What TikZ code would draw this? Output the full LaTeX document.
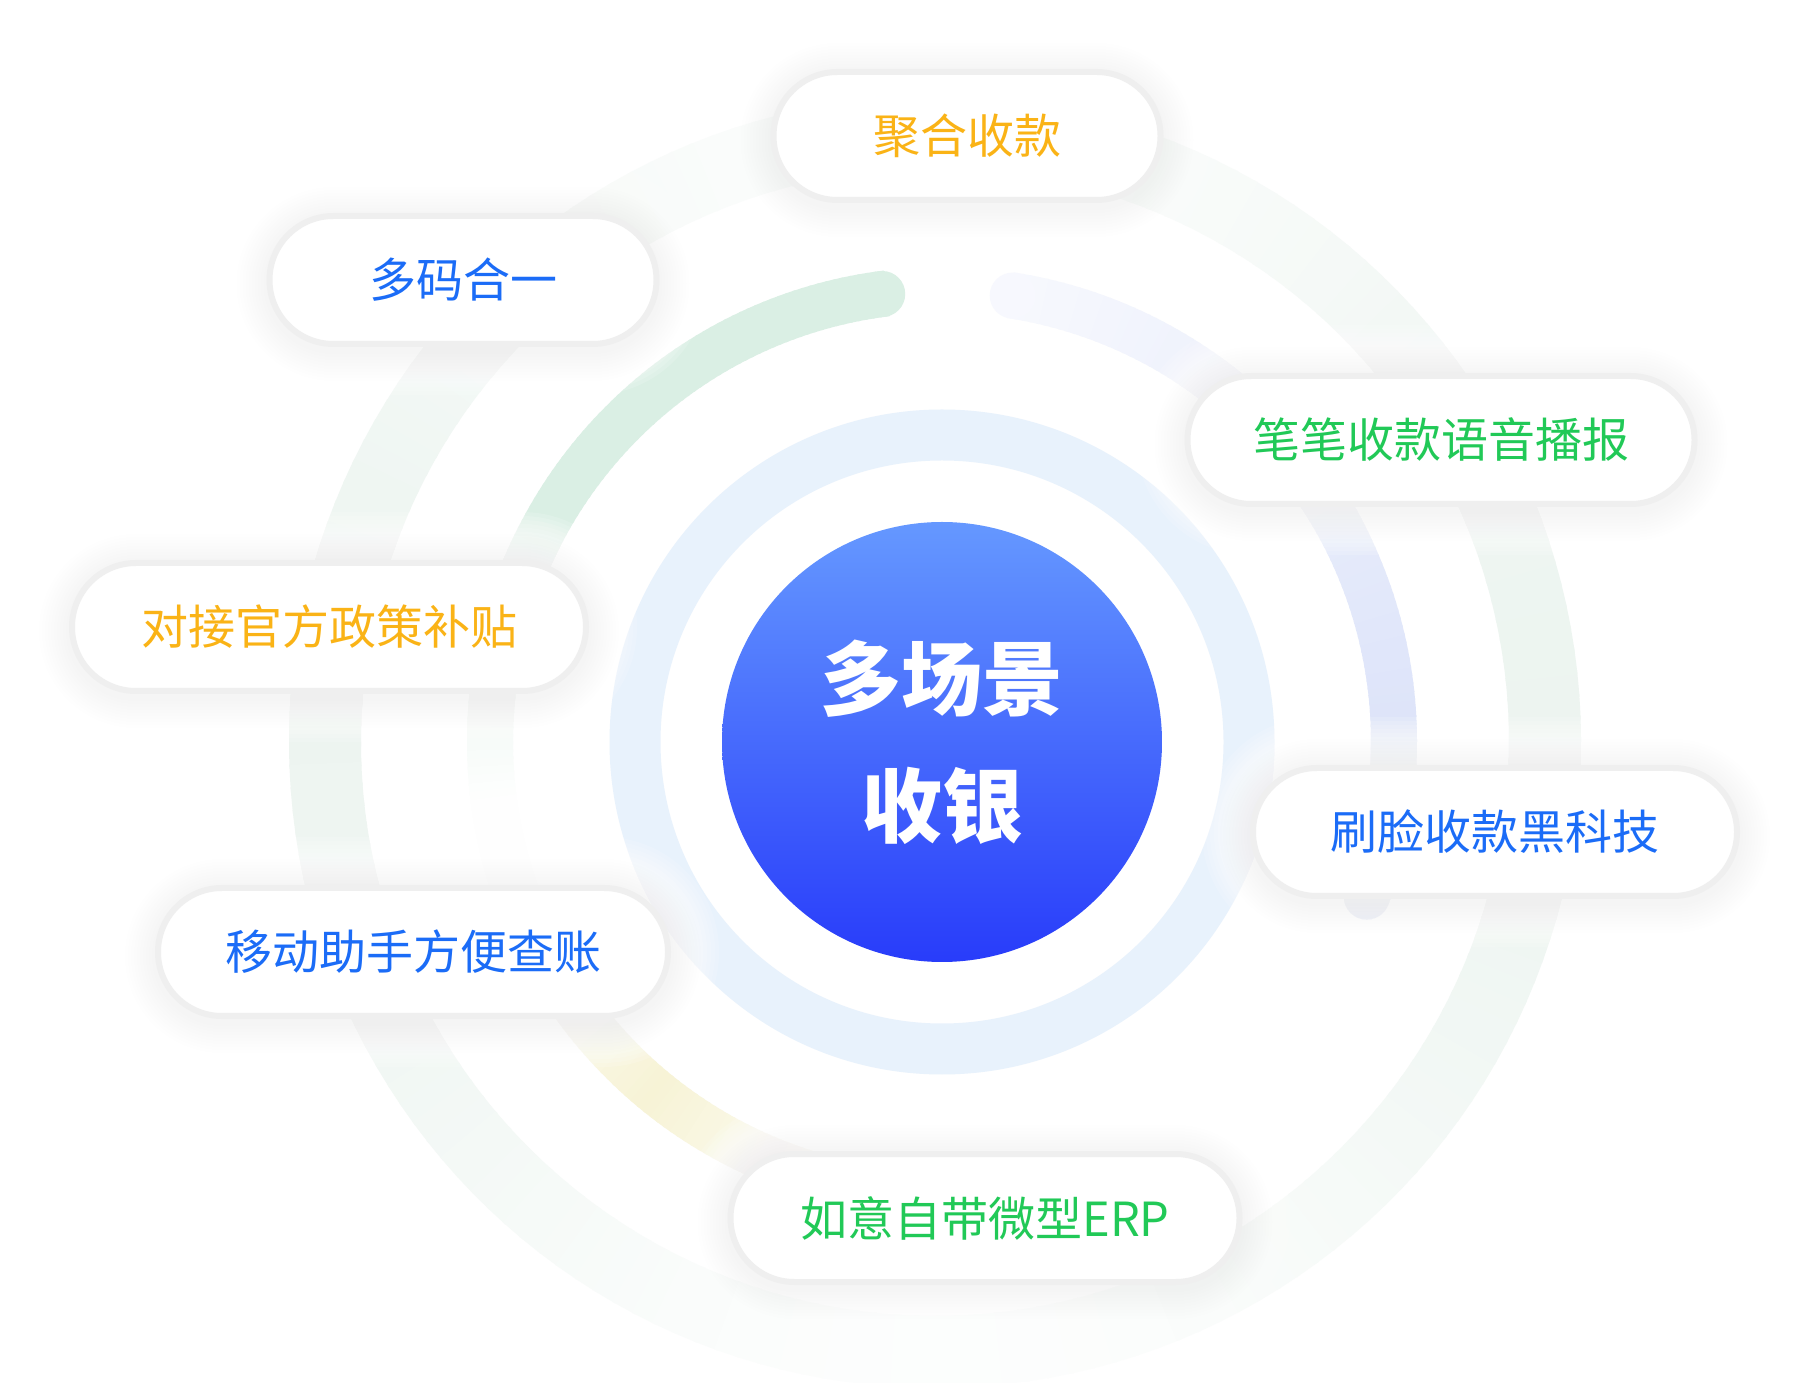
\documentclass[tikz,border=0pt]{standalone}
\usepackage{fontspec}
\newfontfamily\cjk{Noto Sans CJK SC}
\usetikzlibrary{shapes.misc}
\definecolor{tblue}{RGB}{27,108,247}
\definecolor{torange}{RGB}{250,179,22}
\definecolor{tgreen}{RGB}{33,201,87}
\definecolor{ringblue}{RGB}{232,242,252}
\definecolor{grn}{RGB}{218,239,228}
\definecolor{lav}{RGB}{214,222,248}
\definecolor{yel}{RGB}{247,243,214}
\definecolor{outr}{RGB}{234,243,238}
\definecolor{pillborder}{RGB}{239,239,239}
\definecolor{ctop}{RGB}{101,152,255}
\definecolor{cbot}{RGB}{40,60,250}
\newcommand{\pillhalo}[3]{%
  \foreach \k in {1,...,12}{%
    \fill[white, fill opacity=0.15, rounded corners={66.9pt+4pt*\k}]
      ({#1-#3/2-4*\k},{#2-67-4*\k}) rectangle ({#1+#3/2+4*\k},{#2+67+4*\k});
  }%
  \foreach \k in {1,...,10}{%
    \fill[black, fill opacity=0.005, rounded corners={66.9pt+3pt*\k}]
      ({#1-#3/2-3*\k},{#2-4-67-3*\k}) rectangle ({#1+#3/2+3*\k},{#2-4+67+3*\k});
  }%
}
\begin{document}
\begin{tikzpicture}[x=1pt,y=1pt,
  pill/.style={rounded rectangle, fill=white, draw=pillborder, line width=6pt,
    minimum height=128pt, inner sep=0pt, font=\cjk\fontsize{47}{56}\selectfont},
]
\useasboundingbox (0,0) rectangle (1806,1382);
\fill[white] (0,0) rectangle (1806,1382);
\coordinate (c) at (942,640);
\coordinate (co) at (935,640);

% outer ring
\foreach \a in {0,2,...,358}{
  \pgfmathsetmacro{\p}{(sin(\a)<0 ? 12 : 18)+70*abs(cos(\a))^2}
  \draw[line width=72pt, color=outr!\p!white] ([shift={(\a:610)}]co) arc[start angle=\a, end angle=\a+2.4, radius=610];
}

% middle ring: green part
\foreach \a in {97,98,...,205}{
  \pgfmathsetmacro{\p}{\a<150 ? 100 : max(4,100-(\a-150)*2.6)}
  \draw[line width=46pt, color=grn!\p!white] ([shift={(\a:452)}]c) arc[start angle=\a, end angle=\a+1.3, radius=452];
}
\fill[grn] ([shift={(97.6:452)}]c) circle (23);
% yellow part
\foreach \a in {200,201,...,275}{
  \pgfmathsetmacro{\p}{max(0,100-abs(\a-230)*3)}
  \draw[line width=46pt, color=yel!\p!white] ([shift={(\a:452)}]c) arc[start angle=\a, end angle=\a+1.3, radius=452];
}
% lavender part
\foreach \a in {-20,-19,...,80}{
  \pgfmathsetmacro{\p}{100-(\a+20)*0.8}
  \draw[line width=46pt, color=lav!\p!white] ([shift={(\a:452)}]c) arc[start angle=\a, end angle=\a+1.3, radius=452];
}
\fill[lav] ([shift={(-20:452)}]c) circle (23);
\fill[lav!20!white] ([shift={(81:452)}]c) circle (23);

% inner ring
\draw[ringblue, line width=51pt] (c) circle (307);

% core
\node[circle, minimum size=440pt, inner sep=0pt, top color=ctop, bottom color=cbot,
  text=white, align=center, font=\cjk\bfseries\fontsize{81}{127}\selectfont] (core) at (c) {多场景\\收银};

% halos
\pillhalo{967}{1246}{393}
\pillhalo{463}{1102}{393}
\pillhalo{1441}{942}{513}
\pillhalo{329}{755}{520}
\pillhalo{1495}{550}{490}
\pillhalo{413}{430}{516}
\pillhalo{985}{164}{515}

% pills
\node[pill, minimum width=387pt, text=torange] (p1) at (967,1246) {聚合收款};
\node[pill, minimum width=387pt, text=tblue]   (p2) at (463,1102) {多码合一};
\node[pill, minimum width=507pt, text=tgreen]  (p3) at (1441,942) {笔笔收款语音播报};
\node[pill, minimum width=514pt, text=torange] (p4) at (329,755) {对接官方政策补贴};
\node[pill, minimum width=484pt, text=tblue]   (p5) at (1495,550) {刷脸收款黑科技};
\node[pill, minimum width=510pt, text=tblue]   (p6) at (413,430) {移动助手方便查账};
\node[pill, minimum width=509pt, text=tgreen]  (p7) at (985,164) {如意自带微型ERP};
\end{tikzpicture}
\end{document}
